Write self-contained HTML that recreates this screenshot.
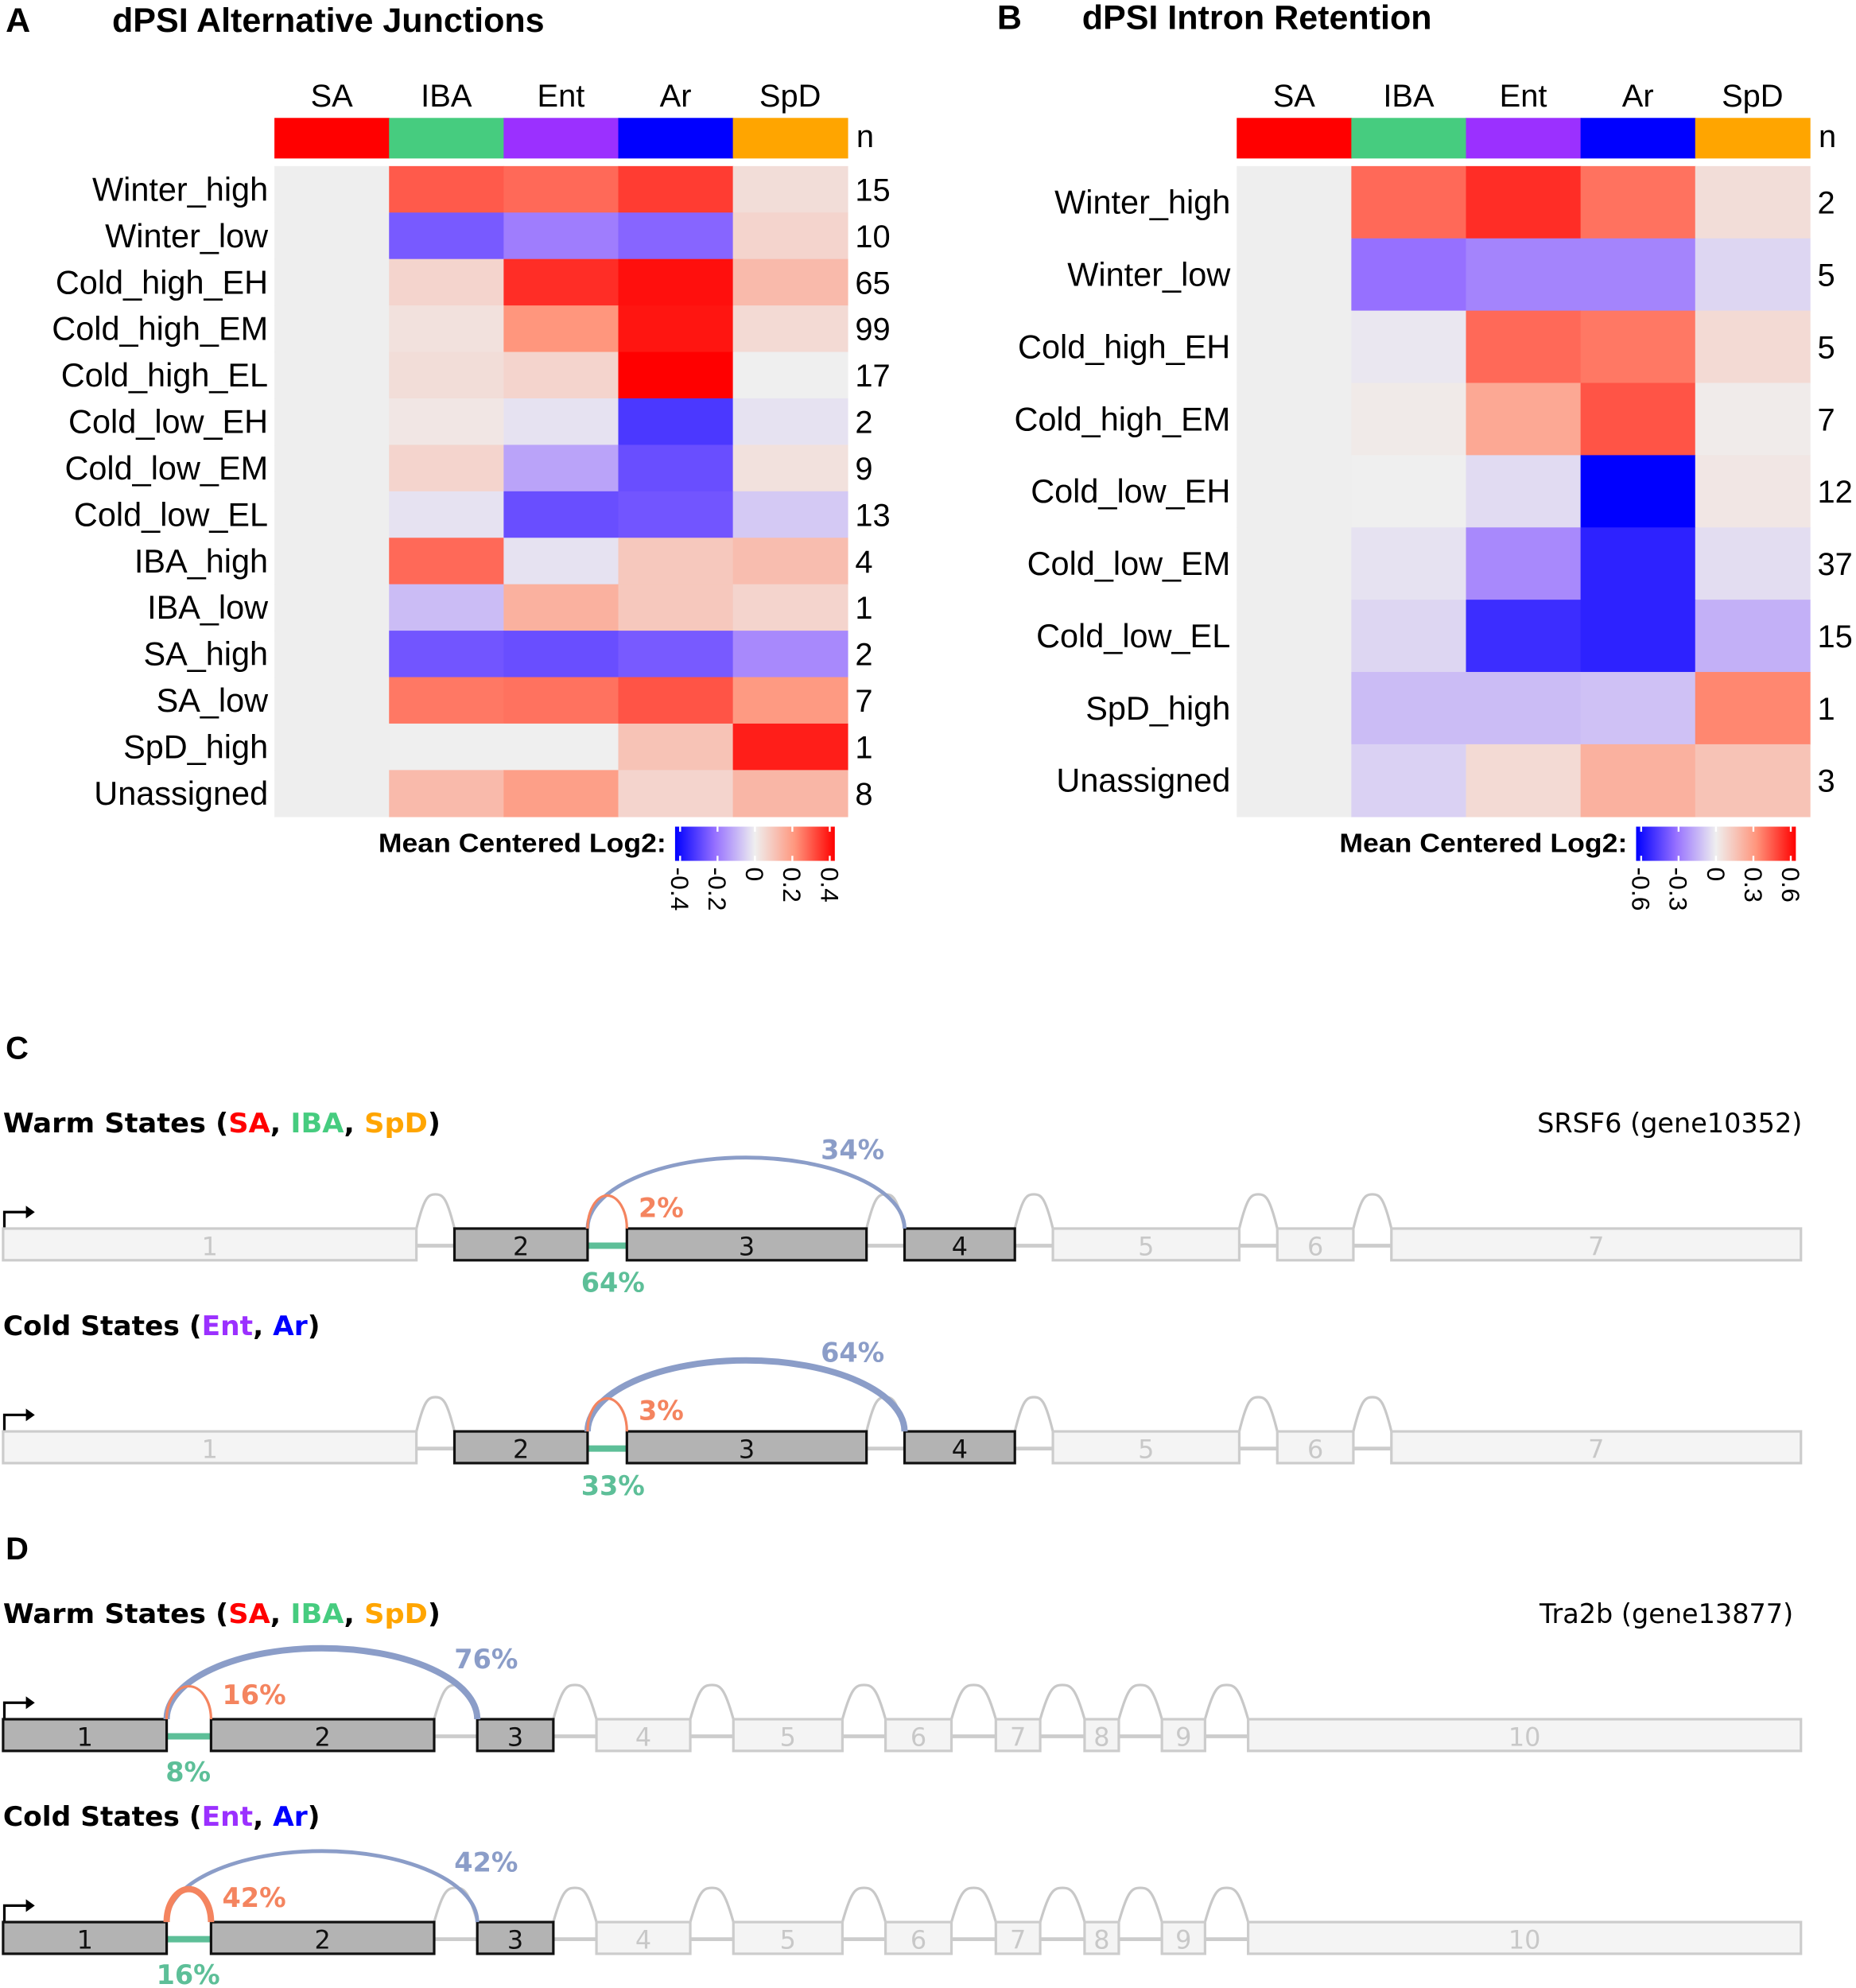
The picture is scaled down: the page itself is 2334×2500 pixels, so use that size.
<!DOCTYPE html>
<html><head><meta charset="utf-8"><style>
html,body{margin:0;padding:0;background:#fff}
svg{display:block;font-family:"Liberation Sans",sans-serif}
.gs{font-family:"DejaVu Sans",sans-serif}
</style></head><body>
<svg id="fig" width="2334" height="2500" viewBox="0 0 1463 1568" xmlns="http://www.w3.org/2000/svg">
<g font-weight="bold">
<text x="4" y="25" font-size="27">A</text>
<text x="88" y="25" font-size="27">dPSI Alternative Junctions</text>
<text x="786" y="23" font-size="27">B</text>
<text x="853" y="23" font-size="27">dPSI Intron Retention</text>
<text x="4" y="835" font-size="25">C</text>
<text x="4" y="1230" font-size="25">D</text>
</g>
<g id="hmA"></g>
<g id="hmB"></g>
<g id="genes" class="gs"></g>
</svg>
<script>
const states = ["SA","IBA","Ent","Ar","SpD"];
const stateColors = ["#ff0000","#46cc7f","#9b30ff","#0000ff","#ffa500"];
const rowsA = ["Winter_high","Winter_low","Cold_high_EH","Cold_high_EM","Cold_high_EL","Cold_low_EH","Cold_low_EM","Cold_low_EL","IBA_high","IBA_low","SA_high","SA_low","SpD_high","Unassigned"];
const nA = [15,10,65,99,17,2,9,13,4,1,2,7,1,8];
const valsA = [
 [null,0.7,0.65,0.8,0.1],[null,-0.6,-0.45,-0.55,0.15],[null,0.15,0.85,0.95,0.3],
 [null,0.08,0.5,0.93,0.12],[null,0.1,0.15,1.0,0.0],[null,0.05,-0.05,-0.75,-0.05],
 [null,0.15,-0.3,-0.65,0.08],[null,-0.05,-0.65,-0.62,-0.15],[null,0.65,-0.05,0.22,0.28],
 [null,-0.2,0.35,0.22,0.15],[null,-0.62,-0.65,-0.6,-0.4],[null,0.6,0.62,0.72,0.48],
 [null,0,0,0.25,0.9],[null,0.3,0.45,0.15,0.32]];
const ticksA = ["-0.4","-0.2","0","0.2","0.4"];
const rowsB = ["Winter_high","Winter_low","Cold_high_EH","Cold_high_EM","Cold_low_EH","Cold_low_EM","Cold_low_EL","SpD_high","Unassigned"];
const nB = [2,5,5,7,12,37,15,1,3];
const valsB = [
 [null,0.65,0.85,0.62,0.1],[null,-0.5,-0.42,-0.42,-0.1],[null,-0.03,0.65,0.6,0.12],
 [null,0.03,0.4,0.72,0.02],[null,0,-0.08,-1.0,0.05],[null,-0.05,-0.4,-0.85,-0.07],
 [null,-0.1,-0.8,-0.85,-0.25],[null,-0.2,-0.2,-0.18,0.55],[null,-0.12,0.12,0.35,0.25]];
const ticksB = ["-0.6","-0.3","0","0.3","0.6"];

const NS="http://www.w3.org/2000/svg";
function mk(tag,attrs,parent,txt){const e=document.createElementNS(NS,tag);for(const k in attrs)e.setAttribute(k,attrs[k]);if(txt!==undefined)e.textContent=txt;parent.appendChild(e);return e;}
const stops=[[-1,[0,0,255]],[-0.5,[150,112,255]],[0,[239,239,239]],[0.5,[255,150,125]],[1,[255,0,0]]];
function col(v){if(v===null)return "#eeeeee";v=Math.max(-1,Math.min(1,v));for(let i=0;i<stops.length-1;i++){const a=stops[i],b=stops[i+1];if(v<=b[0]){const t=(v-a[0])/(b[0]-a[0]);const c=a[1].map((x,j)=>Math.round(x+(b[1][j]-x)*t));return `rgb(${c})`;}}return "rgb(255,0,0)";}

function heat(g,rows,ns,vals,ticks,x0,legX,legTextX){
 const cw=90.4,top=131,bottom=644,rh=(bottom-top)/rows.length;
 const xs=i=>x0+i*cw;
 states.forEach((s,i)=>{
  const t=mk('text',{x:xs(i)+cw/2,y:84,'font-size':25,'text-anchor':'middle'},g,s);
  
  const r=mk('rect',{x:xs(i),y:93,width:cw+0.5,height:32,fill:stateColors[i]},g);
  
 });
 const nh=mk('text',{x:x0+5*cw+7,y:116,'font-size':25},g,'n');
 
 rows.forEach((rn,r)=>{
  const y=top+r*rh;
  const l=mk('text',{x:x0-5,y:y+rh/2+9,'font-size':26,'text-anchor':'end'},g,rn);
  
  vals[r].forEach((v,c)=>{
   const cell=mk('rect',{x:xs(c),y:y,width:cw+0.5,height:rh+0.5,fill:col(v)},g);
   
  });
  const n=mk('text',{x:x0+5*cw+6,y:y+rh/2+9,'font-size':25},g,String(ns[r]));
  
 });
 const lt=mk('text',{x:legTextX,y:672,'font-size':21,'font-weight':'bold','text-anchor':'end',textLength:227,lengthAdjust:'spacingAndGlyphs'},g,'Mean Centered Log2:');
 
 const gid='grad'+x0;
 const defs=mk('defs',{},g);const lg=mk('linearGradient',{id:gid,x1:0,x2:1,y1:0,y2:0},defs);
 stops.forEach(s=>mk('stop',{offset:(s[0]+1)/2,'stop-color':`rgb(${s[1]})`},lg));
 const lw=126;
 const lb=mk('rect',{x:legX,y:652,width:lw,height:27,fill:`url(#${gid})`},g);
 
 ticks.forEach((t,i)=>{
  const tx=legX+4+i*(lw-8)/(ticks.length-1);
  mk('line',{x1:tx,x2:tx,y1:652,y2:656,stroke:'#fff','stroke-width':1.5},g);
  mk('line',{x1:tx,x2:tx,y1:675,y2:679,stroke:'#fff','stroke-width':1.5},g);
  const tl=mk('text',{x:0,y:0,'font-size':20,transform:`translate(${tx-7},684) rotate(90)`},g,t);
  
 });
}
heat(document.getElementById('hmA'),rowsA,nA,valsA,ticksA,216,532,525);
heat(document.getElementById('hmB'),rowsB,nB,valsB,ticksB,975,1290,1283);

const gC_exons=[[2,328,0],[358,463,1],[494,683,1],[713,800,1],[830,977,0],[1007,1067,0],[1097,1420,0]];
const gD_exons=[[2,131,1],[166,342,1],[376,436,1],[470,544,0],[578,664,0],[698,750,0],[785,820,0],[855,882,0],[916,950,0],[984,1420,0]];
const G=document.getElementById('genes');
function title(y,name,parts,right){
 const t=mk('text',{x:2,y:y,'font-size':21,'font-weight':'bold',textLength:parts.length>5?345:250,lengthAdjust:'spacingAndGlyphs'},G);
 
 parts.forEach(p=>mk('tspan',{fill:p[1]},t,p[0]));
 if(right){const r=mk('text',{x:right[1],y:y,'font-size':21,'text-anchor':'end'},G,right[0]);}
}
function arc(x1,x2,y0,peak,color,w){
 const rx=(x2-x1)/2,ry=y0-peak;
 const p=mk('path',{d:`M${x1},${y0} A${rx},${ry} 0 0 1 ${x2},${y0}`,fill:'none',stroke:color,'stroke-width':w},G);
 
}
function garc(x1,x2,y0,peak){
 const w=x2-x1,h=y0-peak;
 const p=mk('path',{d:`M${x1},${y0} C${x1+w*0.2},${y0-h*0.9} ${x1+w*0.3},${peak} ${x1+w/2},${peak} C${x2-w*0.3},${peak} ${x2-w*0.2},${y0-h*0.9} ${x2},${y0}`,fill:'none',stroke:'#c8c8c8','stroke-width':2},G);
 
}
function gene(exons,top,blue,orange,green,pcts,bw,ow){
 const h=25,mid=top+h/2+1;
 mk('path',{d:`M3,${top} V${top-13} H22`,fill:'none',stroke:'#000','stroke-width':2},G);
 mk('path',{d:`M20,${top-18} L27,${top-13} L20,${top-8}Z`,fill:'#000'},G);
 for(let i=0;i<exons.length-1;i++){
  const a=exons[i][1],b=exons[i+1][0];
  mk('line',{x1:a,x2:b,y1:mid,y2:mid,stroke:'#cccccc','stroke-width':3},G);
  if(a!==orange[0]) garc(a,b,top,top-27);
 }
 mk('line',{x1:green[0],x2:green[1],y1:mid,y2:mid,stroke:'#5dbf98','stroke-width':5},G);
 exons.forEach((e,i)=>{
  const r=mk('rect',{x:e[0],y:top,width:e[1]-e[0],height:h,fill:e[2]?'#b3b3b3':'#f4f4f4',stroke:e[2]?'#111':'#cccccc','stroke-width':2},G);
  
  const t=mk('text',{x:(e[0]+e[1])/2,y:top+21,'font-size':20,'text-anchor':'middle',fill:e[2]?'#111':'#c8c8c8'},G,String(i+1));
  
 });
 arc(blue[0],blue[1],top,blue[2],'#8b9dc8',bw);
 arc(orange[0],orange[1],top,orange[2],'#f4845f',ow);
 pcts.forEach(p=>{const t=mk('text',{x:p[1],y:p[2],'font-size':21,'font-weight':'bold','text-anchor':'middle',fill:p[3]},G,p[0]);});
}
const warm=[["Warm States (","#000"],["SA","#ff0000"],[", ","#000"],["IBA","#46cc7f"],[", ","#000"],["SpD","#ffa500"],[")","#000"]];
const cold=[["Cold States (","#000"],["Ent","#9b30ff"],[", ","#000"],["Ar","#0000ff"],[")","#000"]];
title(893,'warm-title-c',warm,["SRSF6 (gene10352)",1421]);
gene(gC_exons,969,[463,713,913],[463,494,943],[463,494],[["34%",672,914,'#8b9dc8'],["2%",521,960,'#f4845f'],["64%",483,1019,'#5dbf98']],3,2);
title(1053,'cold-title-c',cold);
gene(gC_exons,1129,[463,713,1073],[463,494,1103],[463,494],[["64%",672,1074,'#8b9dc8'],["3%",521,1120,'#f4845f'],["33%",483,1179,'#5dbf98']],5,2);
title(1280,'warm-title-d',warm,["Tra2b (gene13877)",1414]);
gene(gD_exons,1356,[131,376,1300],[131,166,1330],[131,166],[["76%",383,1316,'#8b9dc8'],["16%",200,1344,'#f4845f'],["8%",148,1405,'#5dbf98']],5,2);
title(1440,'cold-title-d',cold);
gene(gD_exons,1516,[131,376,1460],[131,166,1490],[131,166],[["42%",383,1476,'#8b9dc8'],["42%",200,1504,'#f4845f'],["16%",148,1565,'#5dbf98']],3,5);
</script>
</body></html>
